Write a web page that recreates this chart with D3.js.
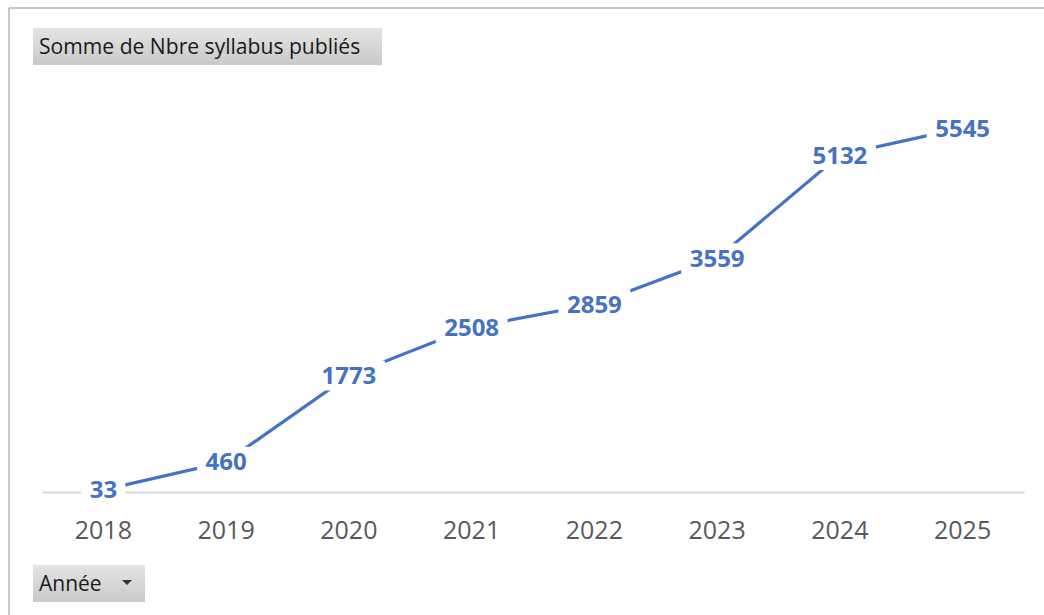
<!DOCTYPE html>
<html>
<head>
<meta charset="utf-8">
<script src="https://cdn.jsdelivr.net/npm/d3@7"></script>
<style>
  body { margin: 0; background: #fff; }
</style>
</head>
<body>
<script>
// data
var annees = ["2018", "2019", "2020", "2021", "2022", "2023", "2024", "2025"];
var syllabus = [33, 460, 1773, 2508, 2859, 3559, 5132, 5545];
var titre = "Somme de Nbre syllabus publiés";
var champAxe = "Année";

var W = 1044, H = 615;
var margin = {top: 98, right: 20, bottom: 123, left: 42},
    width = W - margin.left - margin.right,
    height = H - margin.top - margin.bottom;

var svg = d3.select("body")
    .append("svg")
    .attr("width", W)
    .attr("height", H);

var defs = svg.append("defs");
var grad = defs.append("linearGradient")
    .attr("id", "btn")
    .attr("x1", 0).attr("y1", 0).attr("x2", 0).attr("y2", 1);
grad.append("stop").attr("offset", "0%").attr("stop-color", "#e4e4e4");
grad.append("stop").attr("offset", "100%").attr("stop-color", "#c9c9c9");

// outer frame (top and left edge only)
svg.append("line")
    .attr("x1", 9).attr("x2", W).attr("y1", 8).attr("y2", 8)
    .attr("stroke", "#c8c8c8").attr("stroke-width", 2);
svg.append("line")
    .attr("x1", 9).attr("x2", 9).attr("y1", 8).attr("y2", H)
    .attr("stroke", "#c8c8c8").attr("stroke-width", 2);

// title button
svg.append("rect")
    .attr("x", 33).attr("y", 28).attr("width", 349).attr("height", 37)
    .attr("fill", "url(#btn)");
svg.append("text")
    .attr("x", 39).attr("y", 54)
    .style("font-family", "Open Sans")
    .style("font-size", "21.1px")
    .attr("fill", "#1a1a1a")
    .text(titre);

// field button "Année"
svg.append("rect")
    .attr("x", 33).attr("y", 565).attr("width", 112).attr("height", 37)
    .attr("fill", "url(#btn)");
svg.append("text")
    .attr("x", 39).attr("y", 591)
    .style("font-family", "Open Sans")
    .style("font-size", "21px")
    .attr("fill", "#1a1a1a")
    .text(champAxe);
svg.append("path")
    .attr("d", "M122,580 L132,580 L127,585 Z")
    .attr("fill", "#333");

var g = svg.append("g")
    .attr("transform", "translate(" + margin.left + "," + margin.top + ")");

var x = d3.scaleBand()
    .domain(annees)
    .range([0, width]);

var y = d3.scaleLinear()
    .domain([0, 6000])
    .range([height, 0]);

// category axis
var xAxis = g.append("g")
    .attr("transform", "translate(0," + height + ")")
    .call(d3.axisBottom(x).tickSize(0).tickPadding(0));
xAxis.select(".domain")
    .attr("stroke", "#d9d9d9")
    .attr("stroke-width", 2);
xAxis.selectAll("text")
    .attr("dy", 0)
    .attr("y", 47)
    .attr("fill", "#595959")
    .style("font-family", "Open Sans")
    .style("font-size", "25px");

var pts = annees.map(function(a, i) { return {annee: a, val: syllabus[i]}; });

var line = d3.line()
    .x(function(d) { return x(d.annee) + x.bandwidth() / 2; })
    .y(function(d) { return y(d.val); });

g.append("path")
    .datum(pts)
    .attr("fill", "none")
    .attr("stroke", "#4472c4")
    .attr("stroke-width", 3.2)
    .attr("d", line);

// data labels, centred on points with white backing
var lab = g.selectAll(".lab")
    .data(pts)
    .enter()
    .append("g")
    .attr("class", "lab")
    .attr("transform", function(d) {
        return "translate(" + (x(d.annee) + x.bandwidth() / 2) + "," + y(d.val) + ")";
    });

lab.append("rect")
    .attr("x", function(d) { return -String(d.val).length * 7 - 8; })
    .attr("y", -15)
    .attr("width", function(d) { return String(d.val).length * 14 + 16; })
    .attr("height", 30)
    .attr("fill", "#fff");

lab.append("text")
    .attr("text-anchor", "middle")
    .attr("dy", "0.36em")
    .attr("fill", "#4472c4")
    .style("font-family", "Open Sans")
    .style("font-weight", "bold")
    .style("font-size", "24px")
    .text(function(d) { return d.val; });
</script>
</body>
</html>
